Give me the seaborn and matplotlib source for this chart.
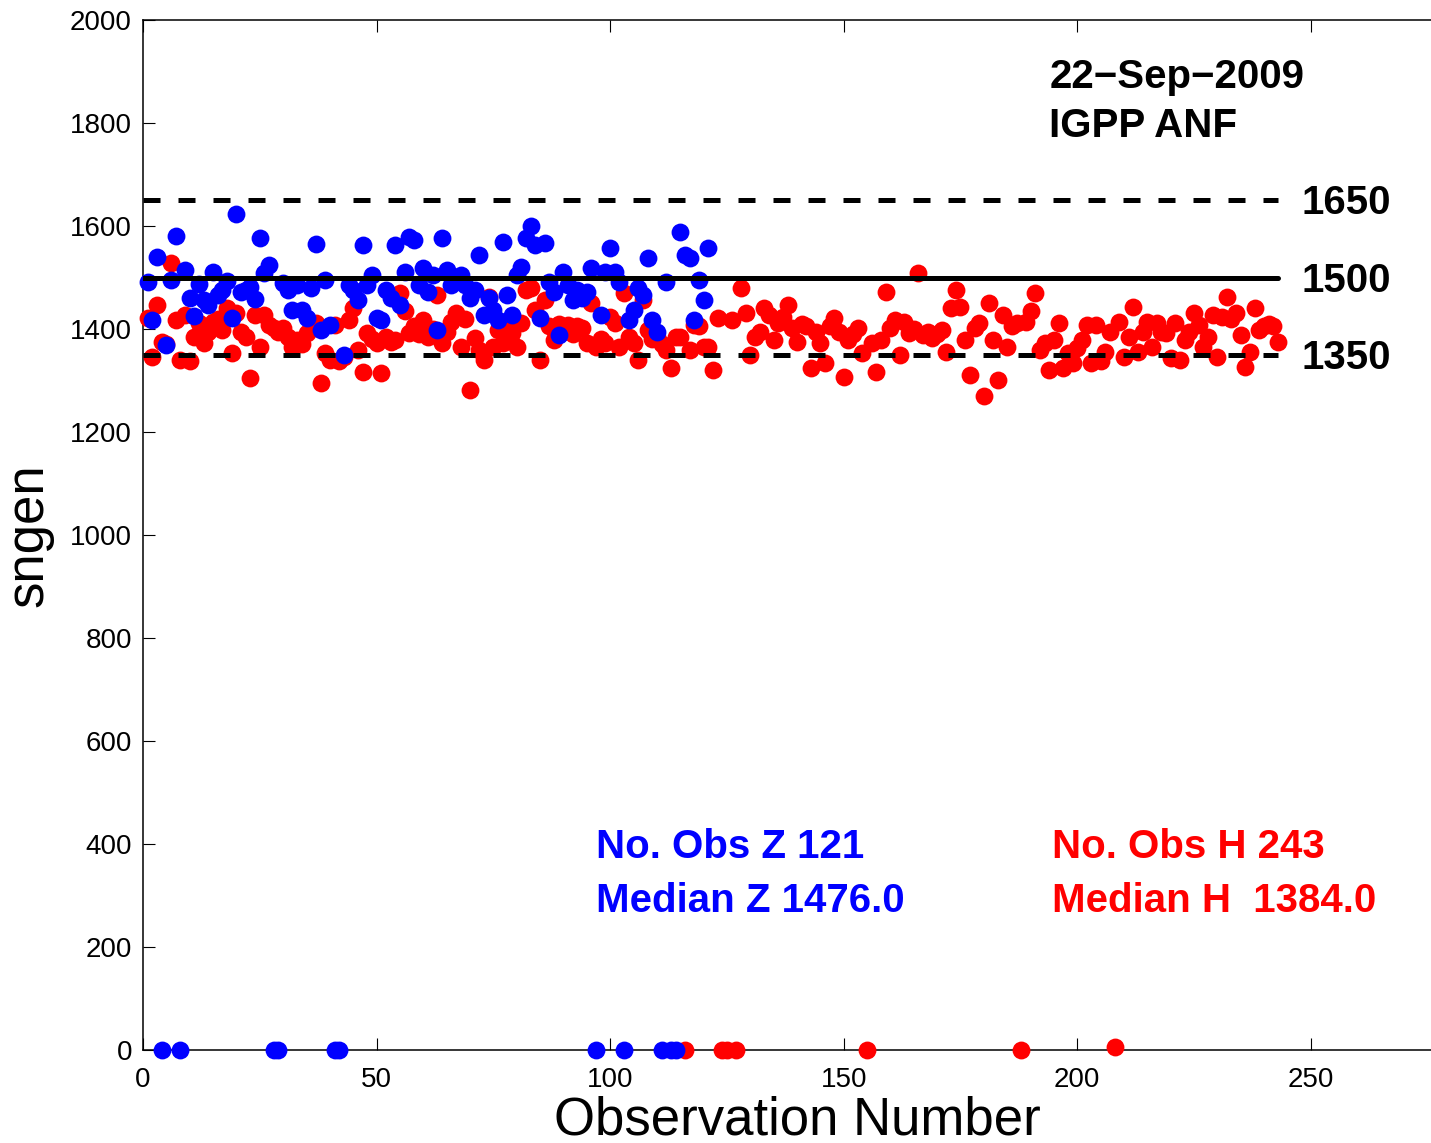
import numpy as np
import pandas as pd
import matplotlib
matplotlib.use("Agg")
import matplotlib.pyplot as plt
import seaborn as sns

# ---- data ----
z_values = [1491, 1417, 1540, 0, 1369, 1496, 1580, 0, 1515, 1460,
            1425, 1487, 1456, 1447, 1511, 1466, 1475, 1494, 1421, 1623,
            1472, 1476, 1482, 1458, 1577, 1509, 1524, 0, 0, 1489,
            1476, 1437, 1485, 1437, 1421, 1480, 1565, 1398, 1496, 1408,
            0, 0, 1350, 1485, 1476, 1456, 1563, 1485, 1505, 1421,
            1417, 1476, 1460, 1563, 1447, 1511, 1578, 1573, 1485, 1518,
            1472, 1505, 1398, 1577, 1515, 1485, 1494, 1505, 1485, 1460,
            1476, 1544, 1427, 1460, 1437, 1417, 1569, 1466, 1427, 1505,
            1520, 1577, 1600, 1563, 1421, 1567, 1491, 1472, 1388, 1511,
            1485, 1456, 1476, 1460, 1472, 1518, 0, 1427, 1511, 1557,
            1511, 1491, 0, 1417, 1437, 1480, 1466, 1538, 1417, 1394,
            0, 1491, 0, 0, 1588, 1544, 1538, 1417, 1496, 1456, 1557]

h_values = [1421, 1346, 1447, 1375, 1370, 1528, 1417, 1340, 1427, 1337,
            1385, 1412, 1373, 1395, 1414, 1420, 1398, 1440, 1353, 1431,
            1395, 1385, 1305, 1427, 1366, 1427, 1408, 1402, 1395, 1402,
            1385, 1366, 1379, 1370, 1392, 1400, 1412, 1295, 1353, 1340,
            1408, 1337, 1345, 1417, 1440, 1359, 1317, 1392, 1380, 1373,
            1315, 1385, 1375, 1379, 1470, 1434, 1392, 1405, 1390, 1417,
            1385, 1400, 1466, 1373, 1395, 1414, 1431, 1366, 1420, 1282,
            1382, 1359, 1340, 1463, 1366, 1398, 1373, 1400, 1392, 1366,
            1412, 1476, 1479, 1437, 1340, 1456, 1405, 1379, 1410, 1395,
            1408, 1390, 1405, 1402, 1373, 1450, 1366, 1380, 1373, 1424,
            1412, 1366, 1470, 1385, 1373, 1340, 1456, 1398, 1380, 1385,
            1370, 1359, 1324, 1385, 1385, 0, 1359, 1408, 1405, 1366,
            1366, 1320, 1421, 0, 0, 1417, 0, 1479, 1431, 1350,
            1385, 1395, 1440, 1427, 1379, 1412, 1424, 1447, 1402, 1375,
            1410, 1405, 1324, 1395, 1373, 1334, 1405, 1421, 1395, 1307,
            1379, 1390, 1402, 1353, 0, 1373, 1317, 1379, 1472, 1402,
            1417, 1350, 1414, 1392, 1400, 1508, 1388, 1395, 1382, 1390,
            1398, 1356, 1440, 1476, 1443, 1379, 1311, 1402, 1412, 1269,
            1450, 1379, 1301, 1427, 1366, 1405, 1412, 0, 1414, 1434,
            1470, 1359, 1373, 1320, 1379, 1412, 1324, 1353, 1334, 1363,
            1379, 1408, 1334, 1408, 1337, 1356, 1395, 5, 1414, 1346,
            1385, 1443, 1356, 1395, 1414, 1366, 1412, 1395, 1392, 1344,
            1412, 1340, 1379, 1395, 1431, 1408, 1366, 1385, 1427, 1346,
            1424, 1463, 1420, 1431, 1388, 1327, 1356, 1440, 1398, 1405,
            1410, 1405, 1375]

ref_levels = [1650, 1500, 1350]
ref_styles = ["dashed", "solid", "dashed"]
ref_labels = ["1650", "1500", "1350"]

date_text = "22\u2212Sep\u22122009"
station_text = "IGPP ANF"
z_text = ["No. Obs Z 121", "Median Z 1476.0"]
h_text = ["No. Obs H 243", "Median H  1384.0"]

x_ticks = [0, 50, 100, 150, 200, 250]
y_ticks = list(range(0, 2001, 200))

# ---- frames ----
df_z = pd.DataFrame({"obs": np.arange(1, len(z_values) + 1), "sngen": z_values})
df_h = pd.DataFrame({"obs": np.arange(1, len(h_values) + 1), "sngen": h_values})

sns.set_style("ticks")
plt.rcParams["font.family"] = ["Liberation Sans", "DejaVu Sans"]
plt.rcParams["text.color"] = "black"
plt.rcParams["axes.labelcolor"] = "black"
plt.rcParams["xtick.color"] = "black"
plt.rcParams["ytick.color"] = "black"
plt.rcParams["xtick.labelcolor"] = "black"
plt.rcParams["ytick.labelcolor"] = "black"

W, H = 1431, 1143
fig = plt.figure(figsize=(W / 100, H / 100), dpi=100)
x0, x1 = 143, 1451
y0, y1 = 1050, 20
ax = fig.add_axes([x0 / W, 1 - y0 / H, (x1 - x0) / W, (y0 - y1) / H])

sns.scatterplot(data=df_h, x="obs", y="sngen", ax=ax, color=(1, 0, 0),
                s=165, linewidth=0, clip_on=False, zorder=3)
sns.scatterplot(data=df_z, x="obs", y="sngen", ax=ax, color=(0, 0, 1),
                s=165, linewidth=0, clip_on=False, zorder=4)

n_h = len(h_values)
for lvl, st, lab in zip(ref_levels, ref_styles, ref_labels):
    ls = "-" if st == "solid" else (0, (3.4, 3.6))
    ax.plot([0, n_h], [lvl, lvl], color="black", lw=3.6, ls=ls, zorder=5)
    ax.text(248, lvl - 6, lab, fontsize=29, fontweight="bold", va="center", ha="left",
            color="black")

ax.text(194, 1890, date_text, fontsize=29, fontweight="bold", va="center", color="black")
ax.text(194, 1795, station_text, fontsize=29, fontweight="bold", va="center", color="black")
ax.text(97, 394, z_text[0], fontsize=29, fontweight="bold", va="center", color=(0, 0, 1))
ax.text(97, 290, z_text[1], fontsize=29, fontweight="bold", va="center", color=(0, 0, 1))
ax.text(194.5, 394, h_text[0], fontsize=29, fontweight="bold", va="center", color=(1, 0, 0))
ax.text(194.5, 290, h_text[1], fontsize=29, fontweight="bold", va="center", color=(1, 0, 0))

ax.set_xlim(0, 280)
ax.set_ylim(0, 2000)
ax.set_xticks(x_ticks)
ax.set_yticks(y_ticks)
ax.tick_params(direction="in", length=8.6, width=0.8, labelsize=20,
               top=True, right=True, color="black", labelcolor="black")
ax.tick_params(axis="x", pad=12)
ax.tick_params(axis="y", pad=8)
for sp in ax.spines.values():
    sp.set_linewidth(1.1)
    sp.set_color("black")

ax.set_xlabel("Observation Number", fontsize=38, labelpad=2, color="black")
ax.set_ylabel("sngen", fontsize=38, labelpad=12, color="black")

fig.savefig("out.png", dpi=100)
